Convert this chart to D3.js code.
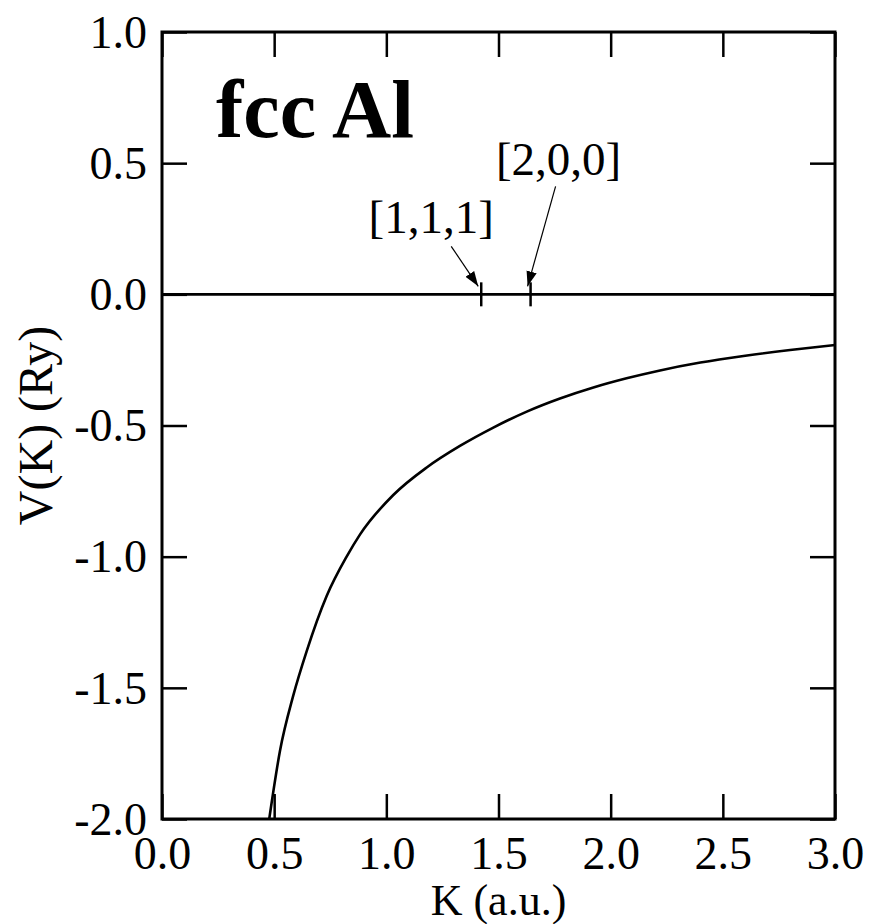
<!DOCTYPE html>
<html>
<head>
<meta charset="utf-8">
<script src="https://cdn.jsdelivr.net/npm/d3@7"></script>
<style>
  body { margin: 0; background: #fff; }
  text { font-family: "Liberation Serif", "Times New Roman", serif; fill: #000; }
</style>
</head>
<body>
<svg id="chart"></svg>
<script>
  // curve
  const kValues = [0.478, 0.526, 0.585, 0.645, 0.734, 0.823, 0.883, 1.031, 1.180, 1.328, 1.477, 1.626, 1.774, 1.923, 2.071, 2.220, 2.400, 2.600, 2.800, 3.000];
  const vValues = [-2.000, -1.740, -1.530, -1.360, -1.150, -1.000, -0.915, -0.765, -0.660, -0.578, -0.508, -0.447, -0.397, -0.355, -0.320, -0.290, -0.260, -0.234, -0.212, -0.193];

  const xTicks = [0.0, 0.5, 1.0, 1.5, 2.0, 2.5, 3.0];
  const yTicks = [1.0, 0.5, 0.0, -0.5, -1.0, -1.5, -2.0];

  // reciprocal lattice vectors marked on the zero line
  const gLabels = ["[1,1,1]", "[2,0,0]"];
  const gK = [1.423, 1.643];

  const width = 870;
  const height = 924;
  const margin = { top: 32, right: 35, bottom: 105, left: 162 };

  const svg = d3
    .select("#chart")
    .attr("width", width)
    .attr("height", height);

  const x = d3
    .scaleLinear()
    .domain([0, 3])
    .range([margin.left, width - margin.right]);

  const y = d3
    .scaleLinear()
    .domain([-2, 1])
    .range([height - margin.bottom, margin.top]);

  const fmt = (d) => d.toFixed(1);

  svg
    .append("defs")
    .append("marker")
    .attr("id", "head")
    .attr("viewBox", "0 0 10 10")
    .attr("refX", 10)
    .attr("refY", 5)
    .attr("markerWidth", 15)
    .attr("markerHeight", 15)
    .attr("markerUnits", "userSpaceOnUse")
    .attr("orient", "auto")
    .append("path")
    .attr("d", "M0,1.5 L10,5 L0,8.5 Z")
    .attr("fill", "#000");

  const styleAxis = (g, labels) => {
    g.attr("font-family", "Liberation Serif");
    g.select(".domain").remove();
    g.selectAll(".tick line").attr("stroke", "#000").attr("stroke-width", 2.5);
    if (!labels) g.selectAll(".tick text").remove();
    else g.selectAll(".tick text").attr("font-size", 46).attr("fill", "#000");
  };

  svg
    .append("g")
    .attr("transform", "translate(0," + y(-2) + ")")
    .call(d3.axisBottom(x).tickValues(xTicks).tickFormat(fmt).tickSizeInner(-25).tickPadding(17))
    .call((g) => styleAxis(g, true));

  svg
    .append("g")
    .attr("transform", "translate(0," + y(1) + ")")
    .call(d3.axisTop(x).tickValues(xTicks).tickSizeInner(-25))
    .call((g) => styleAxis(g, false));

  svg
    .append("g")
    .attr("transform", "translate(" + x(0) + ",0)")
    .call(d3.axisLeft(y).tickValues(yTicks).tickFormat(fmt).tickSizeInner(-25).tickPadding(15))
    .call((g) => styleAxis(g, true))
    .selectAll(".tick text")
    .attr("dy", "0.33em");

  svg
    .append("g")
    .attr("transform", "translate(" + x(3) + ",0)")
    .call(d3.axisRight(y).tickValues(yTicks).tickSizeInner(-25))
    .call((g) => styleAxis(g, false));

  // frame
  svg
    .append("rect")
    .attr("x", x(0))
    .attr("y", y(1))
    .attr("width", x(3) - x(0))
    .attr("height", y(-2) - y(1))
    .attr("fill", "none")
    .attr("stroke", "#000")
    .attr("stroke-width", 3);

  // zero line
  svg
    .append("line")
    .attr("x1", x(0))
    .attr("x2", x(3))
    .attr("y1", y(0))
    .attr("y2", y(0))
    .attr("stroke", "#000")
    .attr("stroke-width", 2.8);

  const points = kValues.map((k, i) => [k, vValues[i]]);

  svg
    .append("path")
    .datum(points)
    .attr("fill", "none")
    .attr("stroke", "#000")
    .attr("stroke-width", 2.6)
    .attr("d", d3.line().x((d) => x(d[0])).y((d) => y(d[1])).curve(d3.curveMonotoneX));

  // G markers on the zero line
  svg
    .selectAll(".gtick")
    .data(gK)
    .enter()
    .append("line")
    .attr("class", "gtick")
    .attr("x1", (d) => x(d))
    .attr("x2", (d) => x(d))
    .attr("y1", y(0) - 12)
    .attr("y2", y(0) + 12)
    .attr("stroke", "#000")
    .attr("stroke-width", 2.5);

  // arrows from labels, offsets in pixels
  const arrowFrom = [[-30, -48], [25, -108]];
  const labelPos = [[-50, -61], [28, -119]];

  svg
    .selectAll(".garrow")
    .data(gK)
    .enter()
    .append("line")
    .attr("class", "garrow")
    .attr("x1", (d, i) => x(d) + arrowFrom[i][0])
    .attr("y1", (d, i) => y(0) + arrowFrom[i][1])
    .attr("x2", (d) => x(d) - 3)
    .attr("y2", y(0) - 8)
    .attr("stroke", "#000")
    .attr("stroke-width", 1.2)
    .attr("marker-end", "url(#head)");

  svg
    .selectAll(".glabel")
    .data(gLabels)
    .enter()
    .append("text")
    .attr("class", "glabel")
    .attr("x", (d, i) => x(gK[i]) + labelPos[i][0])
    .attr("y", (d, i) => y(0) + labelPos[i][1])
    .attr("text-anchor", "middle")
    .attr("font-size", 47)
    .text((d) => d);

  svg
    .append("text")
    .attr("x", 216)
    .attr("y", 137)
    .attr("font-size", 82)
    .attr("font-weight", "bold")
    .text("fcc Al");

  svg
    .append("text")
    .attr("x", x(1.5))
    .attr("y", 915)
    .attr("text-anchor", "middle")
    .attr("font-size", 44)
    .text("K (a.u.)");

  svg
    .append("g")
    .attr("transform", "translate(52," + y(-0.5) + ") rotate(-90)")
    .style("opacity", 0.99)
    .append("text")
    .attr("text-anchor", "middle")
    .attr("font-size", 48)
    .text("V(K) (Ry)");
</script>
</body>
</html>
